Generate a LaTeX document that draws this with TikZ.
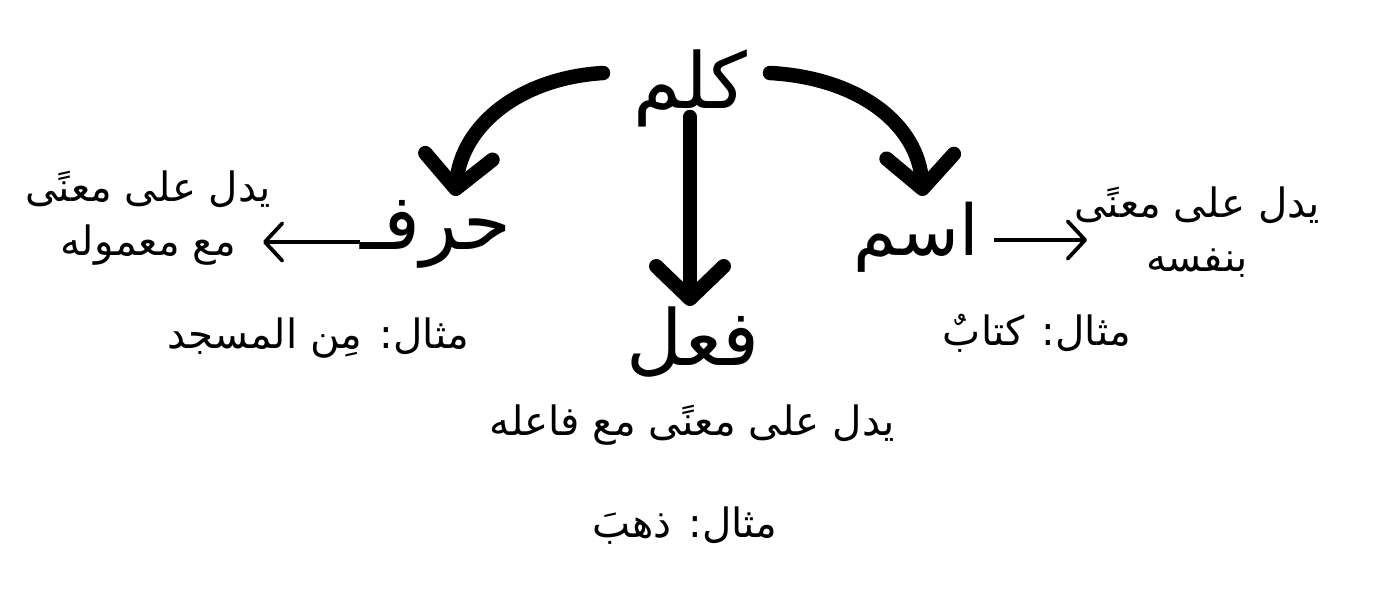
\documentclass[tikz,border=0pt]{standalone}
\usepackage{fontspec}
\usetikzlibrary{arrows.meta}
\newfontfamily\arabicfont[Script=Arabic]{DejaVu Sans}
\TeXXeTstate=1
\begin{document}
\begin{tikzpicture}[x=0.02cm,y=-0.02cm,
  ar/.style={font=\arabicfont\fontsize{23}{31}\selectfont, inner sep=0pt, align=center},
  big/.style={font=\arabicfont\fontsize{44}{50}\selectfont, inner sep=0pt},
  bigarrow/.style={line width=0.29cm, line cap=round, -{Straight Barb[round,length=0.65cm,width=1.35cm]}},
  smallarrow/.style={line width=0.075cm, -{Straight Barb[round,length=0.35cm,width=0.75cm]}}]
\useasboundingbox (0,0) rectangle (1400,594);
% main words
\node[big] (klm) at (690,88) {\beginR كلم\endR};
\node[big] (harf) at (436,234) {\beginR حرفـ\endR};
\node[big,font=\arabicfont\fontsize{40}{46}\selectfont] (ism) at (916,237) {\beginR اسم\endR};
\node[big] (fiel) at (693,342) {\beginR فعل\endR};
% descriptions
\node[ar] (dharf) at (148,218) {\beginR يدل على معنًى\endR\\\beginR مع معموله\endR};
\node[ar] (dism) at (1197,232) {\beginR يدل على معنًى\endR\\\beginR بنفسه\endR};
\node[ar] (dfiel) at (692,425) {\beginR يدل على معنًى مع فاعله\endR};
% examples
\node[ar] (eharf) at (318,338) {\beginR مثال: مِن المسجد\endR};
\node[ar] (eism) at (1037,333) {\beginR مثال: كتابٌ\endR};
\node[ar] (efiel) at (685,526) {\beginR مثال: ذهبَ\endR};
% connector end points
\coordinate (kL) at (603,73);
\coordinate (kR) at (770,73);
\coordinate (kB) at (690,117);
\coordinate (hT) at (455,196);
\coordinate (iT) at (923,196);
\coordinate (fT) at (690,306);
\coordinate (hL) at (360,242);
\coordinate (dhR) at (263,242);
\coordinate (iR) at (994,240);
\coordinate (diL) at (1087,240);
% big arrows
\draw[bigarrow] (kL) .. controls (520,78) and (462,125) .. (hT);
\draw[bigarrow] (kR) .. controls (860,78) and (918,125) .. (iT);
\draw[bigarrow] (kB) -- (fT);
% small arrows
\draw[smallarrow] (hL) -- (dhR);
\draw[smallarrow] (iR) -- (diL);
\end{tikzpicture}
\end{document}
